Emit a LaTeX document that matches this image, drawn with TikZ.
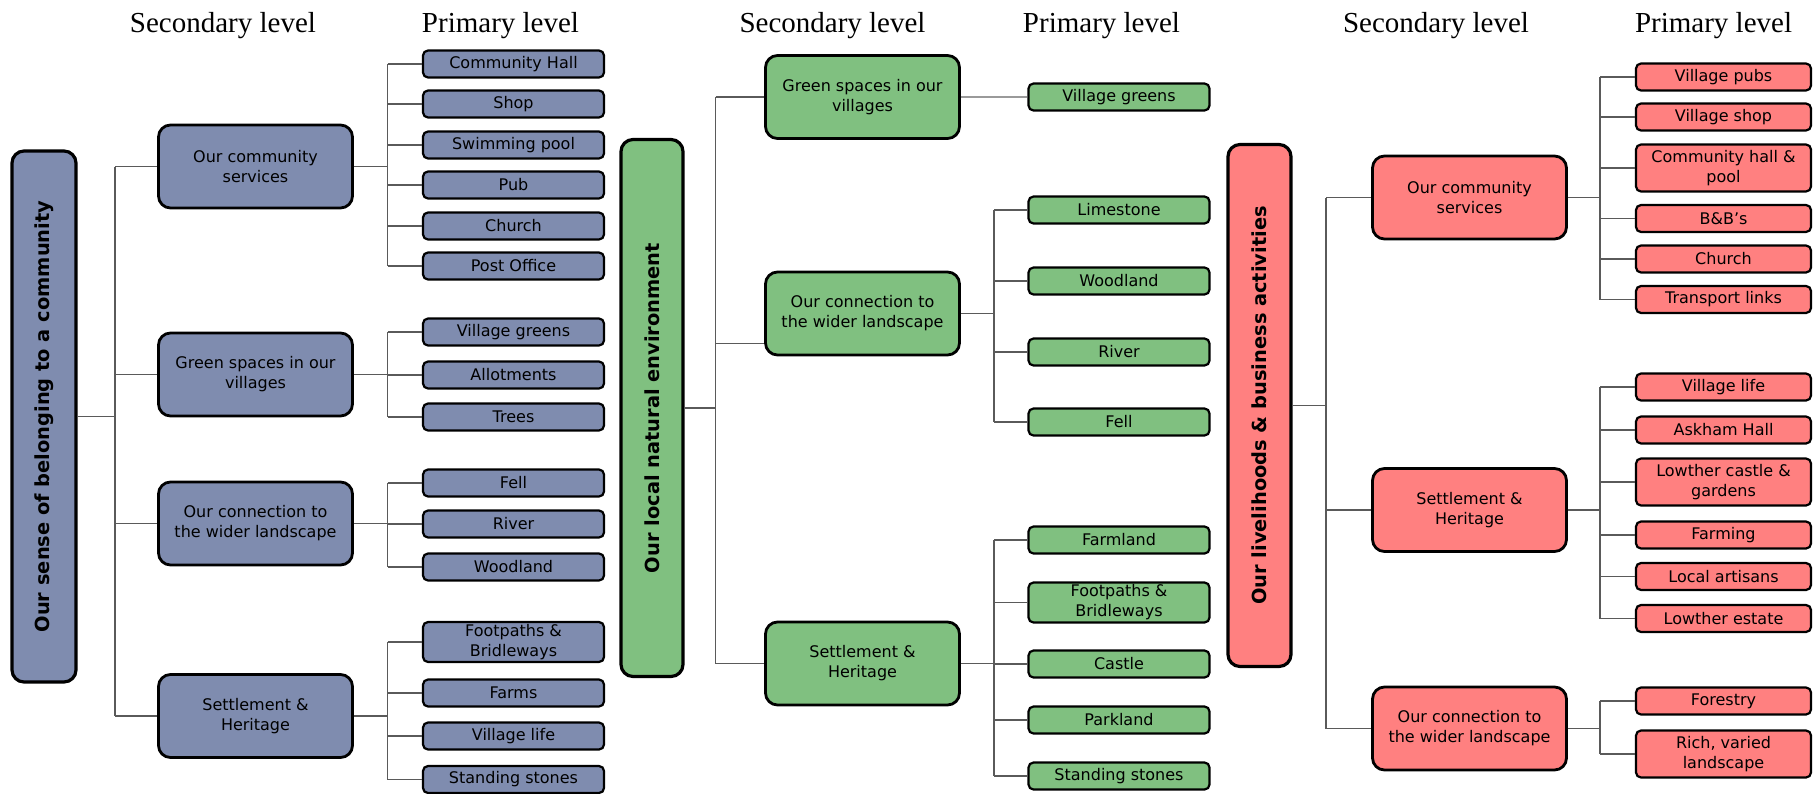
\documentclass[tikz,border=0pt]{standalone}
\usepackage{fontspec}
\setmainfont{Liberation Serif}
\newfontfamily\boxfont{DejaVu Sans}
\usetikzlibrary{calc}
\definecolor{bluefill}{HTML}{7F8CAF}
\definecolor{greenfill}{HTML}{80C080}
\definecolor{redfill}{HTML}{FF8080}
\definecolor{linegray}{HTML}{5A5A5A}
\definecolor{lightline}{HTML}{9A9A9A}
\begin{document}
\begin{tikzpicture}[x=0.5pt,y=-0.5pt,
  secbox/.style={draw=black, line width=1.4pt, rounded corners=6pt, minimum width=97pt, minimum height=41.5pt, align=center, inner sep=0pt, font=\boxfont\fontsize{8}{10}\selectfont},
  primbox/.style={draw=black, line width=1.1pt, rounded corners=2.5pt, minimum width=90.5pt, minimum height=13.5pt, align=center, inner sep=0pt, font=\boxfont\fontsize{8}{10}\selectfont},
  rootbox/.style={draw=black, line width=1.6pt, rounded corners=6pt, inner sep=0pt, font=\boxfont\bfseries\fontsize{9.7}{11}\selectfont},
  hdr/.style={font=\fontsize{14.5}{17}\selectfont, anchor=base, inner sep=0pt},
  conn/.style={draw=linegray, line width=0.9pt},
  lconn/.style={draw=lightline, line width=0.9pt}
]
\useasboundingbox (0,0) rectangle (1814,793);

% headers
\node[hdr] (h1s) at (223,32) {Secondary level};
\node[hdr] (h1p) at (500.5,32) {Primary level};
\node[hdr] (h2s) at (832.5,32) {Secondary level};
\node[hdr] (h2p) at (1101.5,32) {Primary level};
\node[hdr] (h3s) at (1436,32) {Secondary level};
\node[hdr] (h3p) at (1713.5,32) {Primary level};

% ===== Column 1 (blue) =====
\node[rootbox, fill=bluefill, minimum width=32pt, minimum height=265.5pt] (r1) at (44,416.5) {\rotatebox{90}{Our sense of belonging to a community}};
\begin{scope}[every node/.append style={fill=bluefill}]
\node[secbox] (s11) at (255.5,166.5) {Our community\\services};
\node[secbox] (s12) at (255.5,374.5) {Green spaces in our\\villages};
\node[secbox] (s13) at (255.5,523.5) {Our connection to\\the wider landscape};
\node[secbox] (s14) at (255.5,716) {Settlement \&\\Heritage};
\node[primbox] (p111) at (513.5,64) {Community Hall};
\node[primbox] (p112) at (513.5,104) {Shop};
\node[primbox] (p113) at (513.5,145) {Swimming pool};
\node[primbox] (p114) at (513.5,185) {Pub};
\node[primbox] (p115) at (513.5,226) {Church};
\node[primbox] (p116) at (513.5,266) {Post Office};
\node[primbox] (p121) at (513.5,332) {Village greens};
\node[primbox] (p122) at (513.5,375) {Allotments};
\node[primbox] (p123) at (513.5,417) {Trees};
\node[primbox] (p131) at (513.5,483) {Fell};
\node[primbox] (p132) at (513.5,524) {River};
\node[primbox] (p133) at (513.5,567) {Woodland};
\node[primbox, minimum height=20pt] (p141) at (513.5,642) {Footpaths \&\\Bridleways};
\node[primbox] (p142) at (513.5,693) {Farms};
\node[primbox] (p143) at (513.5,736) {Village life};
\node[primbox] (p144) at (513.5,779.5) {Standing stones};
\end{scope}
\coordinate (t1) at (115,0);
\coordinate (u1) at (387.5,0);
\draw[conn] (r1.east) -- (r1.east -| t1);
\draw[conn] (t1 |- s11.west) -- (t1 |- s14.west);
\foreach \s in {s11,s12,s13,s14} \draw[conn] (t1 |- \s.west) -- (\s.west);
\draw[conn] (s11.east) -- (s11.east -| u1);
\draw[conn] (u1 |- p111.west) -- (u1 |- p116.west);
\foreach \p in {p111,p112,p113,p114,p115,p116} \draw[conn] (u1 |- \p.west) -- (\p.west);
\draw[conn] (s12.east) -- (s12.east -| u1);
\draw[conn] (u1 |- p121.west) -- (u1 |- p123.west);
\foreach \p in {p121,p122,p123} \draw[conn] (u1 |- \p.west) -- (\p.west);
\draw[conn] (s13.east) -- (s13.east -| u1);
\draw[conn] (u1 |- p131.west) -- (u1 |- p133.west);
\foreach \p in {p131,p132,p133} \draw[conn] (u1 |- \p.west) -- (\p.west);
\draw[conn] (s14.east) -- (s14.east -| u1);
\draw[conn] (u1 |- p141.west) -- (u1 |- p144.west);
\foreach \p in {p141,p142,p143,p144} \draw[conn] (u1 |- \p.west) -- (\p.west);

% ===== Column 2 (green) =====
\node[rootbox, fill=greenfill, minimum width=31pt, minimum height=268.5pt] (r2) at (652,408) {\rotatebox{90}{Our local natural environment}};
\begin{scope}[every node/.append style={fill=greenfill}]
\node[secbox] (s21) at (862.5,97) {Green spaces in our\\villages};
\node[secbox] (s22) at (862.5,313.5) {Our connection to\\the wider landscape};
\node[secbox] (s23) at (862.5,663.5) {Settlement \&\\Heritage};
\node[primbox] (p211) at (1119,97) {Village greens};
\node[primbox] (p221) at (1119,210) {Limestone};
\node[primbox] (p222) at (1119,281) {Woodland};
\node[primbox] (p223) at (1119,352) {River};
\node[primbox] (p224) at (1119,422) {Fell};
\node[primbox] (p231) at (1119,540) {Farmland};
\node[primbox, minimum height=20pt] (p232) at (1119,602.5) {Footpaths \&\\Bridleways};
\node[primbox] (p233) at (1119,664) {Castle};
\node[primbox] (p234) at (1119,720) {Parkland};
\node[primbox] (p235) at (1119,776) {Standing stones};
\end{scope}
\coordinate (t2) at (715.5,0);
\coordinate (u2) at (994,0);
\coordinate (s22in) at ([yshift=-15pt]s22.west);
\draw[conn] (r2.east) -- (r2.east -| t2);
\draw[conn] (t2 |- s21.west) -- (t2 |- s23.west);
\draw[conn] (t2 |- s21.west) -- (s21.west);
\draw[conn] (t2 |- s22in) -- (s22in);
\draw[conn] (t2 |- s23.west) -- (s23.west);
\draw[lconn] (s21.east) -- (p211.west);
\draw[conn] (s22.east) -- (s22.east -| u2);
\draw[conn] (u2 |- p221.west) -- (u2 |- p224.west);
\foreach \p in {p221,p222,p223,p224} \draw[conn] (u2 |- \p.west) -- (\p.west);
\draw[conn] (s23.east) -- (s23.east -| u2);
\draw[conn] (u2 |- p231.west) -- (u2 |- p235.west);
\foreach \p in {p231,p232,p233,p234,p235} \draw[conn] (u2 |- \p.west) -- (\p.west);

% ===== Column 3 (red) =====
\node[rootbox, fill=redfill, minimum width=31.5pt, minimum height=261pt] (r3) at (1259.5,405.5) {\rotatebox{90}{Our livelihoods \& business activities}};
\begin{scope}[every node/.append style={fill=redfill}]
\node[secbox] (s31) at (1469.5,197.5) {Our community\\services};
\node[secbox] (s32) at (1469.5,510) {Settlement \&\\Heritage};
\node[secbox] (s33) at (1469.5,728.5) {Our connection to\\the wider landscape};
\node[primbox, minimum width=87.5pt] (p311) at (1723.5,77) {Village pubs};
\node[primbox, minimum width=87.5pt] (p312) at (1723.5,117) {Village shop};
\node[primbox, minimum width=87.5pt, minimum height=23.5pt] (p313) at (1723.5,168) {Community hall \&\\pool};
\node[primbox, minimum width=87.5pt] (p314) at (1723.5,218.5) {B\&B’s};
\node[primbox, minimum width=87.5pt] (p315) at (1723.5,259) {Church};
\node[primbox, minimum width=87.5pt] (p316) at (1723.5,299.5) {Transport links};
\node[primbox, minimum width=87.5pt] (p321) at (1723.5,387) {Village life};
\node[primbox, minimum width=87.5pt] (p322) at (1723.5,430) {Askham Hall};
\node[primbox, minimum width=87.5pt, minimum height=23.5pt] (p323) at (1723.5,482) {Lowther castle \&\\gardens};
\node[primbox, minimum width=87.5pt] (p324) at (1723.5,535) {Farming};
\node[primbox, minimum width=87.5pt] (p325) at (1723.5,576.5) {Local artisans};
\node[primbox, minimum width=87.5pt] (p326) at (1723.5,618.5) {Lowther estate};
\node[primbox, minimum width=87.5pt] (p331) at (1723.5,701) {Forestry};
\node[primbox, minimum width=87.5pt, minimum height=23.5pt] (p332) at (1723.5,754) {Rich, varied\\landscape};
\end{scope}
\coordinate (t3) at (1326,0);
\coordinate (u3) at (1600,0);
\draw[conn] (r3.east) -- (r3.east -| t3);
\draw[conn] (t3 |- s31.west) -- (t3 |- s33.west);
\foreach \s in {s31,s32,s33} \draw[conn] (t3 |- \s.west) -- (\s.west);
\draw[conn] (s31.east) -- (s31.east -| u3);
\draw[conn] (u3 |- p311.west) -- (u3 |- p316.west);
\foreach \p in {p311,p312,p313,p314,p315,p316} \draw[conn] (u3 |- \p.west) -- (\p.west);
\draw[conn] (s32.east) -- (s32.east -| u3);
\draw[conn] (u3 |- p321.west) -- (u3 |- p326.west);
\foreach \p in {p321,p322,p323,p324,p325,p326} \draw[conn] (u3 |- \p.west) -- (\p.west);
\draw[conn] (s33.east) -- (s33.east -| u3);
\draw[conn] (u3 |- p331.west) -- (u3 |- p332.west);
\foreach \p in {p331,p332} \draw[conn] (u3 |- \p.west) -- (\p.west);
\end{tikzpicture}
\end{document}
